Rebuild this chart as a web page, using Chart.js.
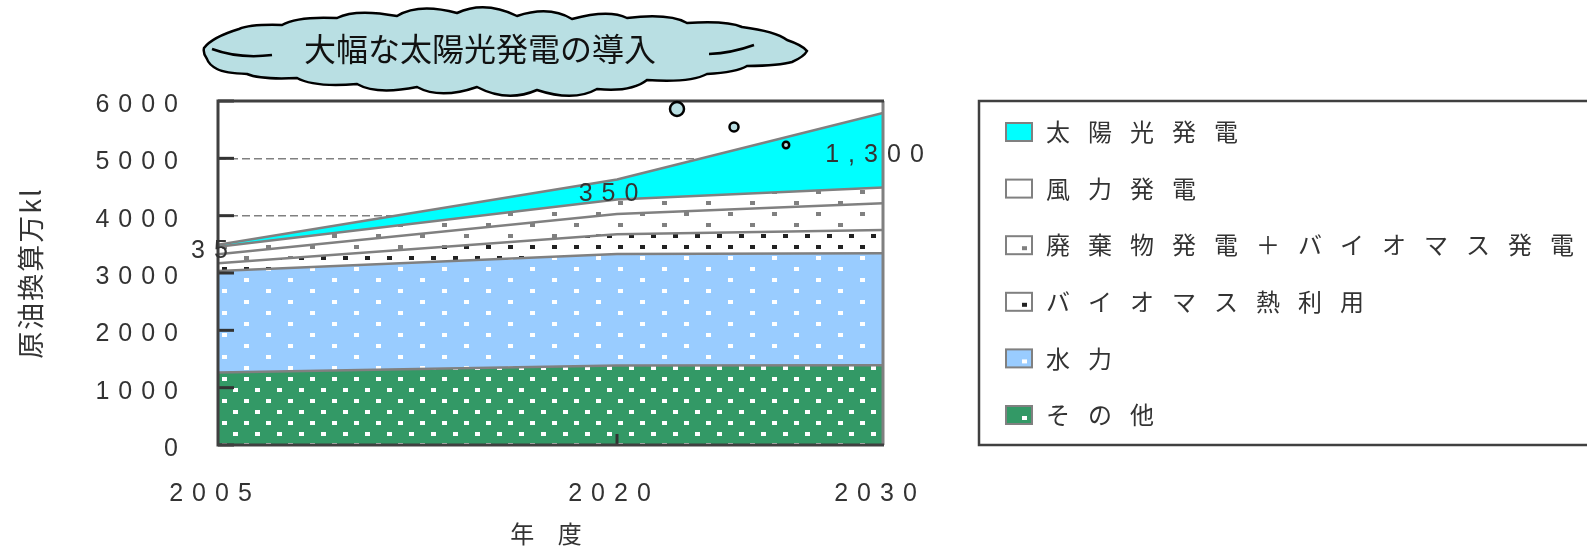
<!DOCTYPE html>
<html>
<head>
<meta charset="utf-8">
<script src="https://cdn.jsdelivr.net/npm/chart.js@4.4.1/dist/chart.umd.min.js"></script>
<style>
  html, body { margin: 0; padding: 0; background: #fff; }
  #wrap { width: 1587px; height: 550px; }
</style>
</head>
<body>
<div id="wrap"><canvas id="energyChart" width="1587" height="550"></canvas></div>
<script>
// years on the x axis, values in 万kl (crude oil equivalent), stacked bottom -> top
const years = [2005, 2020, 2030];
const yTicks = [0, 1000, 2000, 3000, 4000, 5000, 6000];
const seriesNames = ['その他', '水力', 'バイオマス熱利用', '廃棄物発電＋バイオマス発電', '風力発電', '太陽光発電'];
const otherVals = [1265, 1385, 1390];
const hydroVals = [1770, 1945, 1955];
const bioHeatVals = [134, 345, 406];
const wasteBioVals = [157, 355, 466];
const windVals = [133, 250, 275];
const solarVals = [35, 350, 1300];

const TICK_FONT = 'Liberation Sans, Arial, sans-serif';
const JP_FONT = '"Noto Sans CJK JP", sans-serif';

const canvas = document.getElementById('energyChart');
const ctx = canvas.getContext('2d');

function dotPattern(bg, fg, w, h) {
    const c = document.createElement('canvas');
    c.width = w;
    c.height = h;
    const g = c.getContext('2d');
    g.fillStyle = bg;
    g.fillRect(0, 0, w, h);
    if (fg) {
        g.fillStyle = fg;
        g.fillRect(2, 3, 5, 4);
        g.fillRect(2 + w / 2, 3 + h / 2, 5, 4);
    }
    return ctx.createPattern(c, 'repeat');
}

const fills = [
    dotPattern('#339966', '#ffffff', 22, 22),
    dotPattern('#99ccff', '#ffffff', 44, 22),
    dotPattern('#ffffff', '#222222', 22, 22),
    dotPattern('#ffffff', '#808080', 44, 22),
    dotPattern('#ffffff', '#808080', 44, 22),
    '#00ffff'
];
// legend swatches: base colour + one dot like the original key
const swatches = [
    { bg: '#339966', dot: '#ffffff' },
    { bg: '#99ccff', dot: '#ffffff' },
    { bg: '#ffffff', dot: '#222222' },
    { bg: '#ffffff', dot: '#808080' },
    { bg: '#ffffff', dot: null },
    { bg: '#00ffff', dot: null }
];

const seriesVals = [otherVals, hydroVals, bioHeatVals, wasteBioVals, windVals, solarVals];
const datasets = seriesVals.map((vals, i) => ({
    label: seriesNames[i],
    data: vals.map((v, j) => ({ x: years[j], y: v })),
    backgroundColor: fills[i],
    borderColor: '#808080',
    borderWidth: 2.5,
    fill: i === 0 ? 'origin' : '-1',
    pointRadius: 0,
    tension: 0
}));

function drawCloud(c, cx, cy) {
    // outline points relative to the cloud centre
    const pts = [[-300, -3], [-265, -22], [-222, -26], [-167, -33], [-107, -35], [-47, -38], [13, -35],
        [68, -32], [123, -33], [183, -28], [238, -24], [283, -11], [303, 0], [288, 11], [243, 15],
        [203, 23], [143, 29], [93, 38], [33, 39], [-27, 36], [-87, 36], [-147, 33], [-207, 27],
        [-257, 23], [-287, 18], [-297, 8]];
    c.save();
    c.beginPath();
    c.moveTo(cx + pts[0][0], cy + pts[0][1]);
    for (let i = 0; i < pts.length; i++) {
        const a = pts[i], b = pts[(i + 1) % pts.length];
        const mx = (a[0] + b[0]) / 2, my = (a[1] + b[1]) / 2;
        const len = Math.hypot(b[0] - a[0], b[1] - a[1]);
        const d = Math.hypot(mx, my * 3) || 1;
        const bulge = len * 0.24;
        c.quadraticCurveTo(cx + mx + mx / d * bulge, cy + my + my * 3 / d * bulge, cx + b[0], cy + b[1]);
    }
    c.closePath();
    c.fillStyle = '#b9dfe3';
    c.fill();
    c.strokeStyle = '#000';
    c.lineWidth = 2.5;
    c.stroke();
    // creases
    c.beginPath();
    c.moveTo(cx - 292, cy - 2);
    c.quadraticCurveTo(cx - 265, cy + 8, cx - 232, cy + 4);
    c.moveTo(cx + 205, cy + 3);
    c.quadraticCurveTo(cx + 228, cy + 2, cx + 250, cy - 6);
    c.stroke();
    c.restore();
}

const decorPlugin = {
    id: 'decor',
    beforeDraw(chart) {
        chart.ctx.letterSpacing = '9px';
    },
    afterDatasetsDraw(chart) {
        const c = chart.ctx;
        const a = chart.chartArea;
        const xs = chart.scales.x, ys = chart.scales.y;
        c.save();
        // inside tick marks
        c.strokeStyle = '#333';
        c.lineWidth = 3;
        ys.ticks.forEach(t => {
            const py = ys.getPixelForValue(t.value);
            c.beginPath();
            c.moveTo(a.left, py);
            c.lineTo(a.left + 16, py);
            c.stroke();
        });
        xs.ticks.forEach(t => {
            if (t.value === years[0] || t.value === years[years.length - 1]) return;
            const px = xs.getPixelForValue(t.value);
            c.beginPath();
            c.moveTo(px, a.bottom);
            c.lineTo(px, a.bottom - 11);
            c.stroke();
        });
        // frame
        c.lineWidth = 3;
        c.strokeStyle = '#808080';
        c.beginPath();
        c.moveTo(a.right, a.top);
        c.lineTo(a.right, a.bottom);
        c.stroke();
        c.strokeStyle = '#404040';
        c.beginPath();
        c.moveTo(a.right + 1, a.top);
        c.lineTo(a.left, a.top);
        c.lineTo(a.left, a.bottom);
        c.lineTo(a.right + 1, a.bottom);
        c.stroke();
        // solar data labels, centred in the solar band
        const solarMeta = chart.getDatasetMeta(5);
        const windMeta = chart.getDatasetMeta(4);
        c.font = '25px ' + TICK_FONT;
        c.letterSpacing = '9px';
        c.fillStyle = '#333';
        c.textAlign = 'center';
        c.textBaseline = 'middle';
        solarMeta.data.forEach((pt, i) => {
            const midY = (pt.y + windMeta.data[i].y) / 2;
            c.fillText(solarVals[i].toLocaleString('en-US'), pt.x - 4, midY + 5);
        });
        c.restore();
    },
    afterDraw(chart) {
        const c = chart.ctx;
        const a = chart.chartArea;
        c.save();
        // y axis title (tight spacing, unlike the tick labels)
        c.save();
        c.translate(31, (a.top + a.bottom) / 2);
        c.rotate(-Math.PI / 2);
        c.font = '27px ' + JP_FONT;
        c.letterSpacing = '2px';
        c.fillStyle = '#333';
        c.textAlign = 'center';
        c.textBaseline = 'middle';
        c.fillText('原油換算万kl', 0, 0);
        c.restore();
        // title cloud and its bubbles
        drawCloud(c, 504, 51);
        c.font = '32px ' + JP_FONT;
        c.letterSpacing = '0px';
        c.fillStyle = '#111';
        c.textAlign = 'center';
        c.textBaseline = 'middle';
        c.fillText('大幅な太陽光発電の導入', 480, 49);
        [[677, 109, 7], [734, 127, 4.5], [786, 145, 3.2]].forEach(b => {
            c.beginPath();
            c.arc(b[0], b[1], b[2], 0, Math.PI * 2);
            c.fillStyle = '#b9dfe3';
            c.fill();
            c.strokeStyle = '#000';
            c.lineWidth = 2.5;
            c.stroke();
        });
        // legend box
        const lx = a.right + 96;
        c.strokeStyle = '#404040';
        c.lineWidth = 2.5;
        c.strokeRect(lx, a.top, 1000, a.bottom - a.top);
        c.font = '24px ' + JP_FONT;
        c.letterSpacing = '18px';
        c.textAlign = 'left';
        c.textBaseline = 'middle';
        for (let k = 0; k < seriesNames.length; k++) {
            const i = seriesNames.length - 1 - k;
            const cy = a.top + 31 + k * 56.6;
            const sw = swatches[i];
            c.fillStyle = sw.bg;
            c.fillRect(lx + 27, cy - 9, 26, 18);
            if (sw.dot) {
                c.fillStyle = sw.dot;
                c.fillRect(lx + 43, cy + 1, 5, 4);
            }
            c.strokeStyle = '#808080';
            c.lineWidth = 2;
            c.strokeRect(lx + 27, cy - 9, 26, 18);
            c.fillStyle = '#333';
            c.fillText(seriesNames[i], lx + 67, cy);
        }
        c.restore();
    }
};

new Chart(ctx, {
    type: 'line',
    data: { datasets: datasets },
    options: {
        responsive: false,
        animation: false,
        layout: { padding: { left: 0, right: 704, top: 101, bottom: 0 } },
        plugins: {
            legend: { display: false },
            tooltip: { enabled: false }
        },
        scales: {
            x: {
                type: 'linear',
                min: years[0],
                max: years[years.length - 1],
                afterBuildTicks: s => { s.ticks = years.map(v => ({ value: v })); },
                afterFit: s => { s.height = 105; s.paddingLeft = 0; s.paddingRight = 0; },
                grid: { display: false, drawTicks: false },
                border: { display: false },
                ticks: {
                    padding: 34,
                    labelOffset: -3,
                    color: '#333',
                    font: { family: TICK_FONT, size: 25 },
                    callback: v => String(v)
                },
                title: {
                    display: true,
                    text: '年 度',
                    color: '#333',
                    font: { family: JP_FONT, size: 24 },
                    padding: { top: 0, bottom: 2 }
                }
            },
            y: {
                stacked: true,
                min: 0,
                max: 6000,
                afterBuildTicks: s => { s.ticks = yTicks.map(v => ({ value: v })); },
                afterFit: s => { s.width = 218; s.paddingTop = 0; s.paddingBottom = 0; },
                grid: {
                    color: c => (c.tick.value > 0 && c.tick.value < 6000) ? '#808080' : 'rgba(0,0,0,0)',
                    lineWidth: 1.5,
                    drawTicks: false
                },
                border: { display: false, dash: [8, 4] },
                ticks: {
                    padding: 31,
                    labelOffset: 4,
                    color: '#333',
                    font: { family: TICK_FONT, size: 25 },
                    callback: v => String(v)
                },
                title: { display: false }
            }
        }
    },
    plugins: [decorPlugin]
});
</script>
</body>
</html>
